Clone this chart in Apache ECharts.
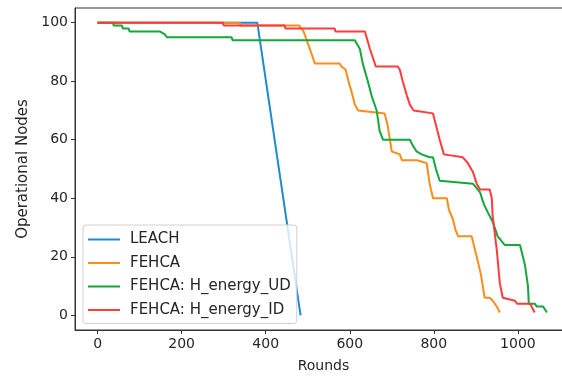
<!DOCTYPE html>
<html>
<head>
<meta charset="utf-8">
<script src="https://cdn.jsdelivr.net/npm/echarts@6/dist/echarts.min.js"></script>
<style>
  html, body { margin: 0; padding: 0; background: #fff; }
  #chart { width: 562px; height: 376px; }
</style>
</head>
<body>
<div id="chart"></div>
<script>
// tick labels
const roundTicks = [0, 200, 400, 600, 800, 1000];
const nodeTicks = [0, 20, 40, 60, 80, 100];

// LEACH
const leachRounds = [0, 380, 483];
const leachNodes = [100, 100, 0];

// FEHCA
const fehcaRounds = [0, 338, 340, 480, 490, 500, 510, 517, 576, 580, 590, 597, 605, 612, 620, 683, 690, 700, 719, 724, 760, 783, 790, 798, 831, 836, 845, 852, 858, 890, 902, 912, 921, 933, 940, 950, 957];
const fehcaNodes = [100, 100, 99, 99, 97, 93, 89, 86, 86, 85, 84, 80, 76, 72, 70, 69, 65, 56, 55, 53, 53, 52, 45, 40, 40, 36, 33, 29, 27, 27, 20, 14, 6, 6, 5, 3, 1];

// FEHCA: H_energy_UD
const udRounds = [0, 37, 38, 58, 60, 74, 76, 148, 160, 165, 319, 321, 612, 624, 631, 643, 652, 664, 671, 679, 743, 750, 759, 771, 790, 798, 805, 814, 893, 910, 919, 929, 940, 952, 969, 1005, 1012, 1017, 1024, 1026, 1040, 1045, 1060, 1069];
const udNodes = [100, 100, 99, 99, 98, 98, 97, 97, 96, 95, 95, 94, 94, 91, 86, 80, 75, 70, 63, 60, 60, 58, 56, 55, 54, 54, 50, 46, 45, 42, 38, 35, 32, 27, 24, 24, 20, 17, 10, 4, 4, 3, 3, 1];

// FEHCA: H_energy_ID
const idRounds = [0, 298, 300, 445, 447, 564, 566, 636, 640, 648, 655, 662, 714, 719, 726, 736, 743, 752, 798, 805, 814, 824, 869, 881, 893, 902, 910, 933, 938, 940, 945, 950, 957, 964, 993, 998, 1029, 1040];
const idNodes = [100, 100, 99, 99, 98, 98, 97, 97, 95, 91, 88, 85, 85, 84, 80, 75, 72, 70, 69, 65, 60, 55, 54, 52, 49, 45, 43, 43, 40, 34, 28, 22, 11, 6, 5, 4, 4, 1];

const seriesNames = ['LEACH', 'FEHCA', 'FEHCA: H_energy_UD', 'FEHCA: H_energy_ID'];
const seriesColors = ['#1f8ad0', '#ff8c17', '#12a83a', '#ff3b3b'];

function pairs(xs, ys) {
  return xs.map(function (x, i) { return [x, ys[i]]; });
}

const chart = echarts.init(document.getElementById('chart'), null, { renderer: 'canvas' });

const font = 'DejaVu Sans';
const seriesData = [
  pairs(leachRounds, leachNodes),
  pairs(fehcaRounds, fehcaNodes),
  pairs(udRounds, udNodes),
  pairs(idRounds, idNodes)
];

const option = {
  animation: false,
  backgroundColor: '#fff',
  textStyle: { fontFamily: font },
  grid: {
    left: 75, top: 8, right: -10, bottom: 46,
    show: true,
    borderColor: '#333',
    borderWidth: 1,
    backgroundColor: 'transparent',
    outerBoundsMode: 'none'
  },
  legend: {
    orient: 'vertical',
    left: 83,
    top: 225,
    itemWidth: 32,
    itemHeight: 14,
    itemGap: 8.5,
    padding: [7, 6, 6, 4],
    backgroundColor: 'rgba(255,255,255,0.8)',
    borderColor: '#d0d0d0',
    borderWidth: 1,
    borderRadius: 3,
    itemStyle: { opacity: 0 },
    textStyle: { fontFamily: font, fontSize: 15, color: '#262626', padding: [0, 0, 0, 5] },
    data: seriesNames
  },
  xAxis: {
    type: 'value',
    min: -53.75,
    max: 1128.75,
    name: 'Rounds',
    nameLocation: 'middle',
    nameGap: 29,
    nameTextStyle: { fontFamily: font, fontSize: 14, color: '#262626' },
    axisLine: { show: true, onZero: false, lineStyle: { color: '#333', width: 1 } },
    axisTick: { show: true, length: 4, lineStyle: { color: '#333' }, customValues: roundTicks },
    axisLabel: {
      fontFamily: font, fontSize: 14, color: '#262626', margin: 7, customValues: roundTicks,
      formatter: function (v) { return String(v); }
    },
    splitLine: { show: false }
  },
  yAxis: {
    type: 'value',
    min: -5,
    max: 105,
    name: 'Operational Nodes',
    nameLocation: 'middle',
    nameGap: 44,
    nameTextStyle: { fontFamily: font, fontSize: 15, color: '#262626' },
    axisLine: { show: true, onZero: false, lineStyle: { color: '#333', width: 1 } },
    axisTick: { show: true, length: 4, lineStyle: { color: '#333' }, customValues: nodeTicks },
    axisLabel: {
      fontFamily: font, fontSize: 14, color: '#262626', margin: 7, customValues: nodeTicks,
      formatter: function (v) { return String(v); }
    },
    splitLine: { show: false }
  },
  series: seriesNames.map(function (name, i) {
    return {
      name: name,
      type: 'line',
      data: seriesData[i],
      symbol: 'none',
      color: seriesColors[i],
      lineStyle: { width: 2, color: seriesColors[i] },
      z: 2 + i
    };
  })
};

chart.setOption(option);
</script>
</body>
</html>
